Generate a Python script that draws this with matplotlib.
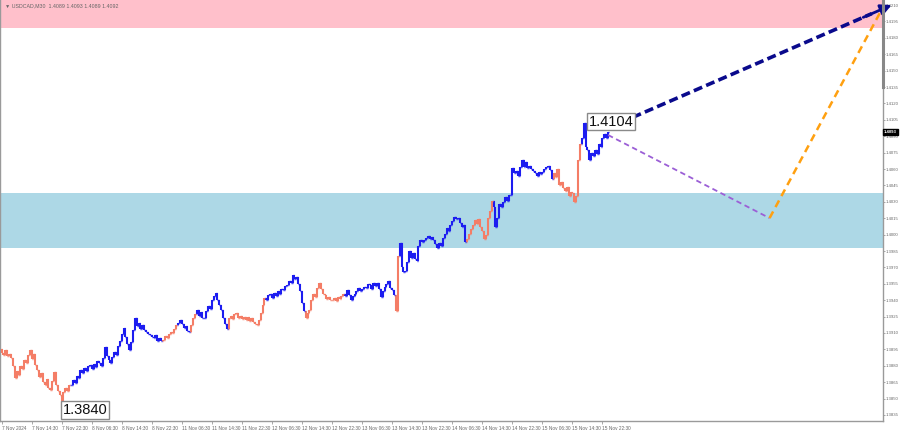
import matplotlib
matplotlib.use("Agg")
import matplotlib.pyplot as plt
import numpy as np

# ---------------- data ----------------
closes = [
    1.3892, 1.3890, 1.3894, 1.3889, 1.3891, 1.3887, 1.3880, 1.3869, 1.3875, 1.3872,
    1.3880, 1.3877, 1.3885, 1.3883, 1.3890, 1.3894, 1.3886, 1.3891, 1.3881, 1.3876,
    1.3870, 1.3873, 1.3865, 1.3862, 1.3868, 1.3860, 1.3858, 1.3866, 1.3874, 1.3862,
    1.3857, 1.3853, 1.3841, 1.3856, 1.3860, 1.3857, 1.3862, 1.3862, 1.3867, 1.3864,
    1.3871, 1.3869, 1.3876, 1.3873, 1.3878, 1.3875, 1.3880, 1.3881, 1.3877, 1.3882,
    1.3879, 1.3884, 1.3883, 1.3880, 1.3887, 1.3897, 1.3889, 1.3885, 1.3883, 1.3888,
    1.3893, 1.3890, 1.3898, 1.3903, 1.3909, 1.3915, 1.3906, 1.3900, 1.3894, 1.3902,
    1.3913, 1.3924, 1.3916, 1.3919, 1.3914, 1.3917, 1.3913, 1.3911, 1.3909, 1.3908,
    1.3906, 1.3905, 1.3908, 1.3903, 1.3905, 1.3903, 1.3904, 1.3907, 1.3905, 1.3909,
    1.3911, 1.3910, 1.3914, 1.3917, 1.3919, 1.3922, 1.3918, 1.3915, 1.3916, 1.3912,
    1.3911, 1.3917, 1.3924, 1.3927, 1.3931, 1.3926, 1.3929, 1.3924, 1.3924, 1.3930,
    1.3935, 1.3932, 1.3940, 1.3944, 1.3947, 1.3940, 1.3936, 1.3931, 1.3924, 1.3918,
    1.3914, 1.3924, 1.3926, 1.3923, 1.3927, 1.3928, 1.3924, 1.3926, 1.3923, 1.3925,
    1.3922, 1.3925, 1.3921, 1.3924, 1.3920, 1.3918, 1.3917, 1.3922, 1.3928, 1.3936,
    1.3942, 1.3940, 1.3945, 1.3946, 1.3942, 1.3947, 1.3944, 1.3948, 1.3946, 1.3950,
    1.3949, 1.3953, 1.3954, 1.3958, 1.3956, 1.3963, 1.3959, 1.3961, 1.3955, 1.3948,
    1.3937, 1.3930, 1.3924, 1.3928, 1.3931, 1.3940, 1.3946, 1.3943, 1.3951, 1.3956,
    1.3950, 1.3946, 1.3945, 1.3941, 1.3943, 1.3940, 1.3940, 1.3942, 1.3939, 1.3943,
    1.3941, 1.3944, 1.3946, 1.3944, 1.3949, 1.3945, 1.3940, 1.3944, 1.3946, 1.3948,
    1.3951, 1.3948, 1.3950, 1.3952, 1.3951, 1.3955, 1.3954, 1.3950, 1.3956, 1.3953,
    1.3956, 1.3950, 1.3943, 1.3948, 1.3952, 1.3955, 1.3958, 1.3951, 1.3949, 1.3945,
    1.3930, 1.3980, 1.3992, 1.3970, 1.3966, 1.3967, 1.3975, 1.3985, 1.3979, 1.3983,
    1.3978, 1.3976, 1.3990, 1.3995, 1.3993, 1.3995, 1.3997, 1.3999, 1.3996, 1.3998,
    1.3995, 1.3991, 1.3988, 1.3992, 1.3990, 1.3997, 1.4001, 1.4006, 1.4003, 1.4009,
    1.4012, 1.4016, 1.4014, 1.4015, 1.4011, 1.4007, 1.4009, 1.3993, 1.3996, 1.4001,
    1.4005, 1.4009, 1.4013, 1.4010, 1.4014, 1.4007, 1.4003, 1.3996, 1.4000, 1.4015,
    1.4022, 1.4031, 1.4025, 1.4007, 1.4015, 1.4028, 1.4025, 1.4030, 1.4034, 1.4031,
    1.4036, 1.4036, 1.4061, 1.4056, 1.4058, 1.4054, 1.4062, 1.4068, 1.4062, 1.4066,
    1.4061, 1.4063, 1.4060, 1.4058, 1.4056, 1.4054, 1.4057, 1.4055, 1.4057, 1.4060,
    1.4062, 1.4063, 1.4059, 1.4051, 1.4056, 1.4053, 1.4060, 1.4045, 1.4048, 1.4043,
    1.4040, 1.4044, 1.4035, 1.4039, 1.4038, 1.4030, 1.4035, 1.4068, 1.4083, 1.4088,
    1.4102, 1.4080, 1.4077, 1.4068, 1.4075, 1.4072, 1.4077, 1.4074, 1.4083, 1.4080,
    1.4088, 1.4092, 1.4088, 1.4094,
]
first_open = 1.3895

# wave colouring: start bar of each segment, alternating salmon / blue
seg_starts = [0, 37, 86, 94, 101, 104, 121, 141, 162, 183, 210, 212, 248, 262, 294, 309]
seg_colors = ["salmon", "blue"]

# zones
resist_zone = [1.4189, 1.4225]
support_zone = [1.3988, 1.4038]

# forecast paths (bar index, price)
main_fc_x = [323, 474]
main_fc_y = [1.40975, 1.4210]
corr_fc_x = [323, 409]
corr_fc_y = [1.40911, 1.40151]
alt_fc_x = [409, 468]
alt_fc_y = [1.40151, 1.42036]

# labels
extreme_labels = [("1.4104", 324.5, 1.41034), ("1.3840", 44.5, 1.38396)]

x_tick_labels = ["7 Nov 2024", "7 Nov 14:30", "7 Nov 22:30", "8 Nov 06:30", "8 Nov 14:30",
                 "8 Nov 22:30", "11 Nov 06:30", "11 Nov 14:30", "11 Nov 22:30", "12 Nov 06:30",
                 "12 Nov 14:30", "12 Nov 22:30", "13 Nov 06:30", "13 Nov 14:30", "13 Nov 22:30",
                 "14 Nov 06:30", "14 Nov 14:30", "14 Nov 22:30", "15 Nov 06:30", "15 Nov 14:30",
                 "15 Nov 22:30"]
bars_per_label = 16
y_ticks = [1.3835 + 0.0015 * k for k in range(26)]
header = "\u25BC USDCAD,M30  1.4089 1.4093 1.4089 1.4092"
current_price = 1.4094
current_label = "1.4093"

# ---------------- plotting ----------------
color_map = {"salmon": "#f47d66", "blue": "#1c1cf0"}
small_font = "Liberation Sans"

fig = plt.figure(figsize=(9, 4.32), dpi=100)
ax = fig.add_axes([0.0, 1 - 421 / 432, 883 / 900, 421 / 432])

xmin, xmax = -0.8, 469.4
ymin, ymax = 1.38295, 1.42146
ax.set_xlim(xmin, xmax)
ax.set_ylim(ymin, ymax)

# zones
ax.axhspan(resist_zone[0], resist_zone[1], color="#ffc0cb", zorder=0, lw=0)
ax.axhspan(support_zone[0], support_zone[1], color="#add8e6", zorder=0, lw=0)

n = len(closes)
idx = np.arange(n)
opens = [first_open] + closes[:-1]
highs = np.maximum(opens, closes)
lows = np.minimum(opens, closes)
bounds = seg_starts + [n]
bar_cols = []
for s in range(len(seg_starts)):
    c = color_map[seg_colors[s % 2]]
    bar_cols += [c] * (bounds[s + 1] - bounds[s])

ax.vlines(idx, lows, highs, colors=bar_cols, lw=1.5, zorder=3)
ax.hlines(opens, idx - 0.5, idx, colors=bar_cols, lw=1.0, zorder=3)
ax.hlines(closes, idx, idx + 0.5, colors=bar_cols, lw=1.0, zorder=3)

# forecasts
ax.plot(corr_fc_x, corr_fc_y, ls=(0, (3, 2)), color="#9b5fd6", lw=1.3, zorder=4)
ax.plot(alt_fc_x, alt_fc_y, ls=(0, (3, 2)), color="#ffa010", lw=1.8, zorder=4,
        clip_on=False)
dx = main_fc_x[1] - main_fc_x[0]
dy = main_fc_y[1] - main_fc_y[0]
ax.plot([main_fc_x[0], main_fc_x[0] + 0.93 * dx], [main_fc_y[0], main_fc_y[0] + 0.93 * dy],
        ls=(0, (2.5, 1.2)), color="#0a0a8c", lw=2.6, zorder=5, clip_on=False)
ax.annotate("", xy=(main_fc_x[1], main_fc_y[1]),
            xytext=(main_fc_x[0] + 0.90 * dx, main_fc_y[0] + 0.90 * dy),
            arrowprops=dict(arrowstyle="-|>", color="#0a0a8c", lw=2.0,
                            mutation_scale=16, shrinkA=0, shrinkB=0),
            zorder=6, annotation_clip=False)

# extreme labels
for txt, bx, by in extreme_labels:
    ax.text(bx, by, txt, ha="center", va="center", fontsize=10.5,
            family="Liberation Sans", color="#111111", zorder=7,
            bbox=dict(boxstyle="square,pad=0.12", fc="white", ec="#8a8a8a", lw=1.0))

# header
ax.text(0.006, 0.993, header, transform=ax.transAxes, ha="left", va="top",
        fontsize=3.8, color="#666666", family=[small_font, "DejaVu Sans"])

# axes styling
for side in ["left", "bottom", "right"]:
    ax.spines[side].set_color("#9a9a9a")
    ax.spines[side].set_linewidth(1.0)
ax.spines["top"].set_visible(False)

ax.yaxis.tick_right()
ax.set_yticks(y_ticks)
ax.set_yticklabels([f"{v:.4f}" for v in y_ticks], family=small_font)
ax.tick_params(axis="y", which="both", right=True, left=False, length=1.5, width=0.6,
               color="#9a9a9a", pad=0.5, labelsize=3.1, labelcolor="#666666")
xt = [k * bars_per_label for k in range(len(x_tick_labels))]
ax.set_xticks(xt)
ax.set_xticklabels(x_tick_labels, ha="left", family=small_font)
ax.tick_params(axis="x", length=2, width=0.6, color="#9a9a9a", pad=1.5,
               labelsize=3.4, labelcolor="#666666")

# current price marker
ax.text(1.001, current_price, current_label, transform=ax.get_yaxis_transform(),
        ha="left", va="center", fontsize=3.1, color="white", fontweight="bold",
        family=small_font,
        bbox=dict(boxstyle="square,pad=0.25", fc="black", ec="black"), clip_on=False)

# shift marker on right edge
ax.plot([1.0, 1.0], [1.4135, ymax], transform=ax.get_yaxis_transform(),
        color="#888888", lw=2.2, clip_on=False, zorder=6)

fig.savefig("out.png", dpi=100, facecolor="white")
